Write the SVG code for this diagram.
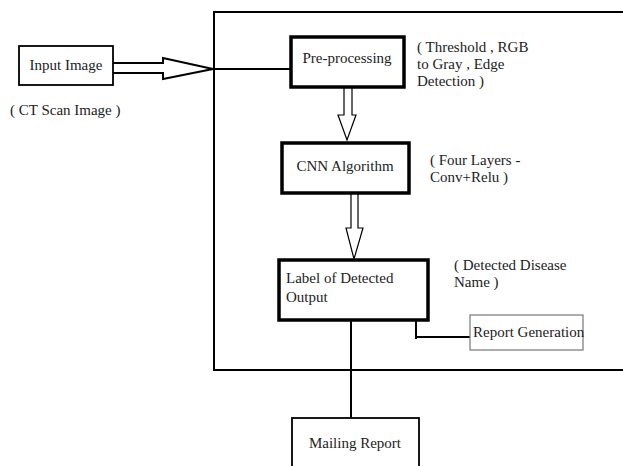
<svg xmlns="http://www.w3.org/2000/svg" width="623" height="466" viewBox="0 0 623 466">
<style>
text{font-family:'Liberation Serif','Times New Roman','DejaVu Serif',serif;font-size:15px;fill:#222}
.thick{fill:#fff;stroke:#000;stroke-width:3.5}
.thin{fill:#fff;stroke:#000;stroke-width:1.8}
.gray{fill:#fff;stroke:#777;stroke-width:1.2}
.ln{fill:none;stroke:#000;stroke-width:2}
.hollow{fill:#fff;stroke:#000;stroke-width:1.2;stroke-linejoin:miter}
.hollow2{fill:#fff;stroke:#000;stroke-width:2}
</style>
<rect width="623" height="466" fill="#fff"/>
<g id="frame">
<path class="ln" d="M623,12 H214 V370 H623"/>
</g>
<g id="connectors">
<path class="hollow2" d="M113,63 H163 V58 L213,69 L163,79 V73 H113"/>
<path class="ln" d="M213,69 H290"/>
<path class="hollow" d="M344,87 V115 H338 L347,140 L356,115 H352 V87"/>
<path class="hollow" d="M351,193 V228 H346 L354,259 L363,228 H358 V193"/>
<path class="ln" d="M416,320 V339 M416,337 H470"/>
<path class="ln" d="M351,320 V418"/>
</g>
<g font-family="Liberation Serif, Times New Roman, serif">
<g id="input-image">
<rect class="thin" x="19" y="46" width="94" height="39"/>
<text x="66" y="70" text-anchor="middle">Input Image</text>
<text x="10" y="115">( CT Scan Image )</text>
</g>
<g id="pre-processing">
<rect class="thick" x="291" y="37" width="113" height="50"/>
<text x="347" y="63" text-anchor="middle">Pre-processing</text>
<text x="417" y="52">( Threshold , RGB</text>
<text x="417" y="69">to Gray , Edge</text>
<text x="417" y="86">Detection )</text>
</g>
<g id="cnn">
<rect class="thick" x="282" y="143" width="127" height="50"/>
<text x="345" y="171" text-anchor="middle">CNN Algorithm</text>
<text x="430" y="165">( Four Layers -</text>
<text x="430" y="182">Conv+Relu )</text>
</g>
<g id="label-output">
<rect class="thick" x="279" y="260" width="149" height="60"/>
<text x="286" y="283">Label of Detected</text>
<text x="286" y="302">Output</text>
<text x="454" y="270">( Detected Disease</text>
<text x="454" y="287">Name )</text>
</g>
<g id="report-generation">
<rect class="gray" x="470" y="315" width="113" height="35"/>
<text x="473" y="337">Report Generation</text>
</g>
<g id="mailing-report">
<rect class="thin" x="292" y="418" width="127" height="60"/>
<text x="355" y="448" text-anchor="middle">Mailing Report</text>
</g>
</g>
</svg>
